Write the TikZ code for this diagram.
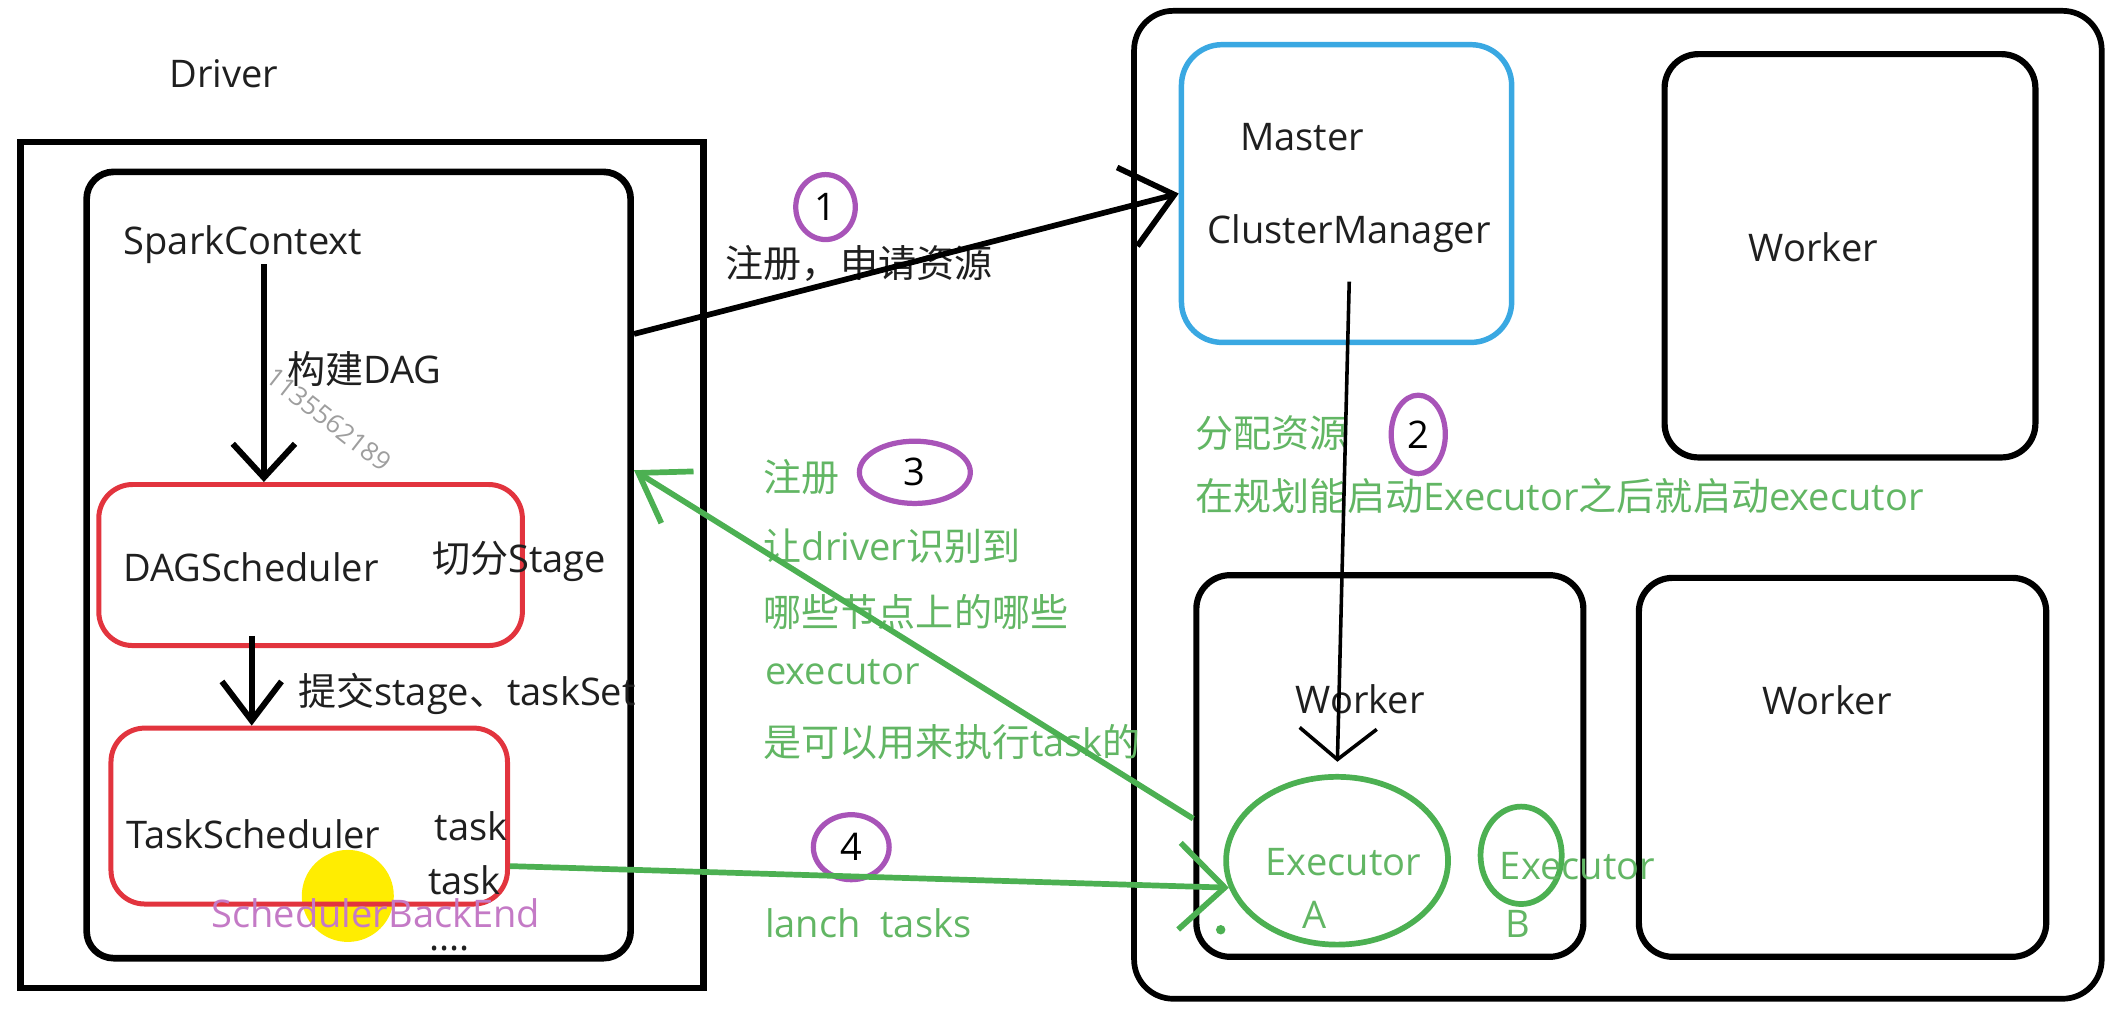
\documentclass[tikz,border=0pt]{standalone}
\usepackage{fontspec}
\setmainfont{Open Sans}
\newfontfamily\cjk{Noto Sans CJK SC}
\usetikzlibrary{arrows.meta,shapes.geometric}
\definecolor{boxred}{RGB}{226,52,62}
\definecolor{mblue}{RGB}{58,168,226}
\definecolor{lgreen}{RGB}{76,176,82}
\definecolor{tgreen}{RGB}{98,182,100}
\definecolor{numpurple}{RGB}{168,84,184}
\definecolor{bkpurple}{RGB}{196,122,198}
\tikzset{
    lbl/.style={anchor=base west, inner sep=0pt, font=\fontsize{16}{19}\selectfont, text=black!88},
    glbl/.style={lbl, text=tgreen},
    box/.style={draw, line width=2.6pt, inner sep=0pt, rounded corners=5mm},
    num/.style={ellipse, draw=numpurple, line width=2.2pt, inner sep=0pt, font=\fontsize{16}{19}\selectfont},
    barb/.style 2 args={-{Straight Barb[length=#1,width=#2]}},
}
\begin{document}
\begin{tikzpicture}[x=0.2mm, y=-0.2mm]
    \useasboundingbox (0,0) rectangle (1568,748);
    % driver side
    \node[draw, line width=2.8pt, inner sep=0pt, minimum width=101mm, minimum height=125mm] (drvout) at (267.5,417.5) {};
    \node[box, line width=2.8pt, rounded corners=4mm, minimum width=80.4mm, minimum height=116.2mm] (drv) at (265,417.5) {};
    \fill[yellow!95!orange] (257,662) circle [radius=6.8mm];
    \node[box, draw=boxred, line width=2.1pt, minimum width=62.6mm, minimum height=23.8mm] (dag) at (229.5,417.5) {};
    \node[box, draw=boxred, line width=2.1pt, minimum width=58.6mm, minimum height=26mm] (tsk) at (228.5,603) {};
    \node[rotate=-38, inner sep=0pt, text=black!38, font=\fontsize{11}{13}\selectfont] (wm) at (243,310) {1135562189};
    \node[lbl] (drvlbl) at (125,65) {Driver};
    \node[lbl] (sc) at (91,188) {SparkContext};
    \node[lbl] (dagtxt) at (212,283) {{\cjk 构建}DAG};
    \node[lbl] (dagname) at (91,430) {DAGScheduler};
    \node[lbl] (stg) at (319,423) {{\cjk 切分}Stage};
    \node[lbl] (sub) at (220,521) {{\cjk 提交}stage{\cjk 、}taskSet};
    \node[lbl] (tsname) at (93,627) {TaskScheduler};
    \node[lbl] (t1) at (321,621) {task};
    \node[lbl] (t2) at (316,661) {task};
    \node[lbl, text=bkpurple] (sbe) at (156,685) {SchedulerBackEnd};
    \node[lbl] (dots) at (317,702) {....};
    % cluster side
    \node[box, line width=2.4pt, rounded corners=5.8mm, minimum width=143mm, minimum height=146mm] (cls) at (1195.5,373) {};
    \node[box, draw=mblue, line width=2.3pt, rounded corners=6mm, minimum width=48.8mm, minimum height=44mm] (mst) at (995,143) {};
    \node[box, minimum width=54.8mm, minimum height=59.6mm] (wk1) at (1367,189) {};
    \node[box, minimum width=57.2mm, minimum height=56.4mm] (wk2) at (1027,566) {};
    \node[box, minimum width=60.2mm, minimum height=56mm] (wk3) at (1361.5,567) {};
    \node[lbl] (msttxt) at (916,111) {Master};
    \node[lbl] (cm) at (892,180) {ClusterManager};
    \node[lbl] (wk1txt) at (1292,193) {Worker};
    \node[lbl] (wk2txt) at (957,527) {Worker};
    \node[lbl] (wk3txt) at (1302,528) {Worker};
    \node[ellipse, draw=lgreen, line width=2.4pt, inner sep=0pt, minimum width=32.8mm, minimum height=24.8mm] (exA) at (988,636) {};
    \node[ellipse, draw=lgreen, line width=2.4pt, inner sep=0pt, minimum width=12mm, minimum height=14.4mm] (exB) at (1124,632) {};
    \fill[lgreen] (902,687) circle [radius=0.7mm];
    \node[glbl] (exAtxt) at (935,647) {Executor};
    \node[glbl] (exAlbl) at (962,686) {A};
    \node[glbl] (exBtxt) at (1108,650) {Executor};
    \node[glbl] (exBlbl) at (1112,693) {B};
    % steps
    \node[lbl] (regtxt) at (536,205) {\cjk 注册，申请资源};
    \node[glbl] (alloc) at (883,331) {\cjk 分配资源};
    \node[glbl] (plan) at (883,377) {{\cjk 在规划能启动}Executor{\cjk 之后就启动}executor};
    \node[glbl] (reg3) at (564,363) {\cjk 注册};
    \node[glbl] (reg3a) at (564,414) {{\cjk 让}driver{\cjk 识别到}};
    \node[glbl] (reg3b) at (564,463) {\cjk 哪些节点上的哪些};
    \node[glbl] (reg3c) at (565,506) {executor};
    \node[glbl] (reg3d) at (564,559) {{\cjk 是可以用来执行}task{\cjk 的}};
    \node[glbl] (launch) at (565,693) {lanch\ \ tasks};
    \node[num, minimum width=8.8mm, minimum height=9.6mm] (n1) at (610,153) {1};
    \node[num, minimum width=8mm, minimum height=11.6mm] (n2) at (1048,321) {2};
    \node[num, minimum width=16.4mm, minimum height=9.2mm] (n3) at (676,349) {3};
    \node[num, minimum width=11.2mm, minimum height=9.6mm] (n4) at (629,626) {4};
    % arrows
    \draw[barb={5mm}{9.2mm}, line width=2.5pt] ([xshift=-6.9mm]dag.north |- sc.south) -- ([xshift=-6.9mm]dag.north);
    \draw[barb={5.8mm}{8.8mm}, line width=2.5pt] ([xshift=-8.7mm,yshift=1.8mm]dag.south) -- ([xshift=-8.7mm]dag.south |- tsk.north);
    \draw[barb={7.2mm}{12mm}, line width=2.4pt] (drv.40) -- (mst.west);
    \draw[barb={4.6mm}{11.4mm}, line width=1.5pt, shorten >=1.8mm] ([yshift=-4.2mm]cm.south) -- (exA.north);
    \draw[barb={6.8mm}{9mm}, lgreen, line width=2.4pt] (wk2.195) -- (drv.19);
    \draw[barb={6.7mm}{12.8mm}, lgreen, line width=2.4pt] (tsk.346) -- (exA.194);
\end{tikzpicture}
\end{document}
